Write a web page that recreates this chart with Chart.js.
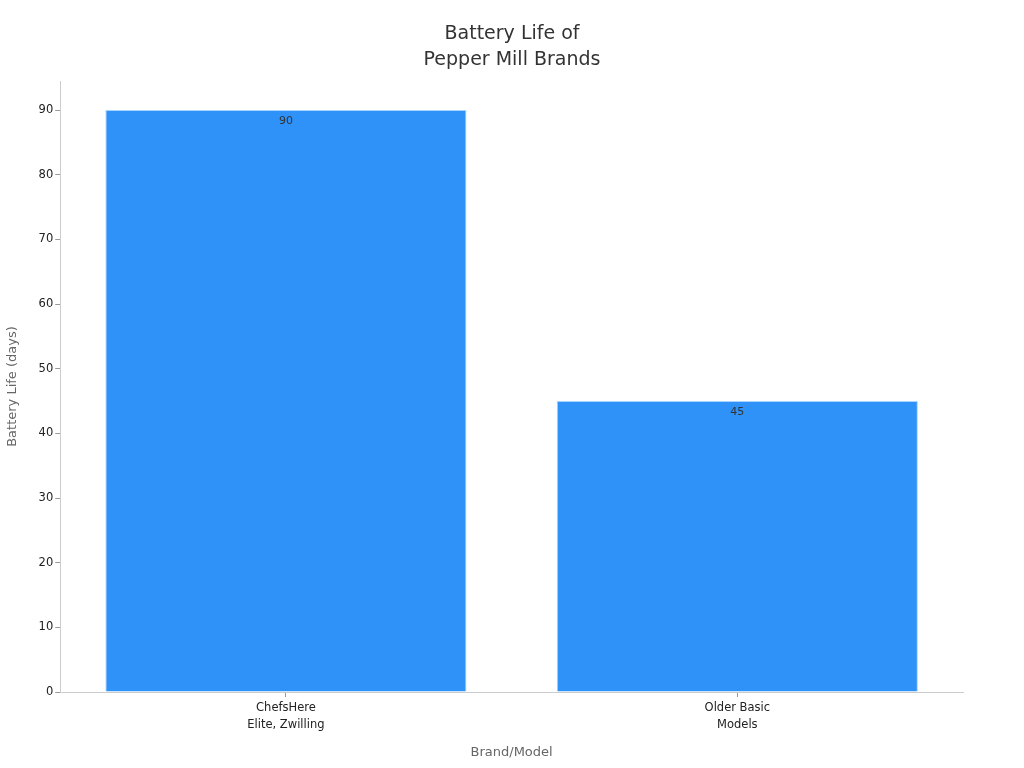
<!DOCTYPE html>
<html>
<head>
<meta charset="utf-8">
<script src="https://cdn.jsdelivr.net/npm/chart.js@4"></script>
<style>
  html, body { margin: 0; padding: 0; background: #fff; }
  #wrap { width: 1024px; height: 768px; }
</style>
</head>
<body>
<div id="wrap"><canvas id="chart"></canvas></div>
<script>
const brands = [['ChefsHere', 'Elite, Zwilling'], ['Older Basic', 'Models']];
const batteryDays = [90, 45];
const titleLines = ['Battery Life of', 'Pepper Mill Brands'];

// value labels inside the bar tops, plus the title centred on the page
const extras = {
    id: 'extras',
    afterDraw(chart) {
        const ctx = chart.ctx;
        const meta = chart.getDatasetMeta(0);
        ctx.save();
        ctx.font = '11px "DejaVu Sans"';
        ctx.fillStyle = '#333';
        ctx.textAlign = 'center';
        ctx.textBaseline = 'middle';
        meta.data.forEach((bar, i) => {
            ctx.fillText(String(batteryDays[i]), bar.x, bar.y + 11);
        });
        ctx.font = '19px "DejaVu Sans"';
        ctx.fillStyle = '#333';
        titleLines.forEach((line, i) => {
            ctx.fillText(line, chart.width / 2, 34 + i * 26);
        });
        ctx.restore();
    }
};

Chart.defaults.font.family = '"DejaVu Sans", sans-serif';

new Chart(document.getElementById('chart').getContext('2d'), {
    type: 'bar',
    data: {
        labels: brands,
        datasets: [{
            data: batteryDays,
            backgroundColor: '#2e92f8',
            borderColor: '#a8d4ff',
            borderWidth: 1,
            barPercentage: 0.8,
            categoryPercentage: 1.0,
        }],
    },
    options: {
        responsive: true,
        maintainAspectRatio: false,
        animation: false,
        layout: { padding: { left: 0, right: 61, top: 81, bottom: 8 } },
        plugins: {
            legend: { display: false },
            tooltip: { enabled: false },
            title: { display: false },
        },
        scales: {
            x: {
                grid: { drawOnChartArea: false, drawTicks: true, tickLength: 5, color: '#999', offset: false },
                border: { color: '#ccc' },
                ticks: { color: '#222', font: { size: 11.5, lineHeight: 1.45 }, padding: 3 },
                title: { display: true, text: 'Brand/Model', color: '#666', font: { size: 13 }, padding: { top: 8, bottom: 0 } },
            },
            y: {
                min: 0,
                max: 94.5,
                afterBuildTicks: axis => {
                    axis.ticks = axis.ticks.filter(t => t.value % 10 === 0);
                },
                grid: { drawOnChartArea: false, drawTicks: true, tickLength: 5, color: '#999' },
                border: { color: '#ccc' },
                ticks: { stepSize: 10, color: '#222', font: { size: 11.5 }, padding: 2 },
                title: { display: true, text: 'Battery Life (days)', color: '#666', font: { size: 13 }, padding: { top: 5, bottom: 16 } },
            },
        },
    },
    plugins: [extras],
});
</script>
</body>
</html>
